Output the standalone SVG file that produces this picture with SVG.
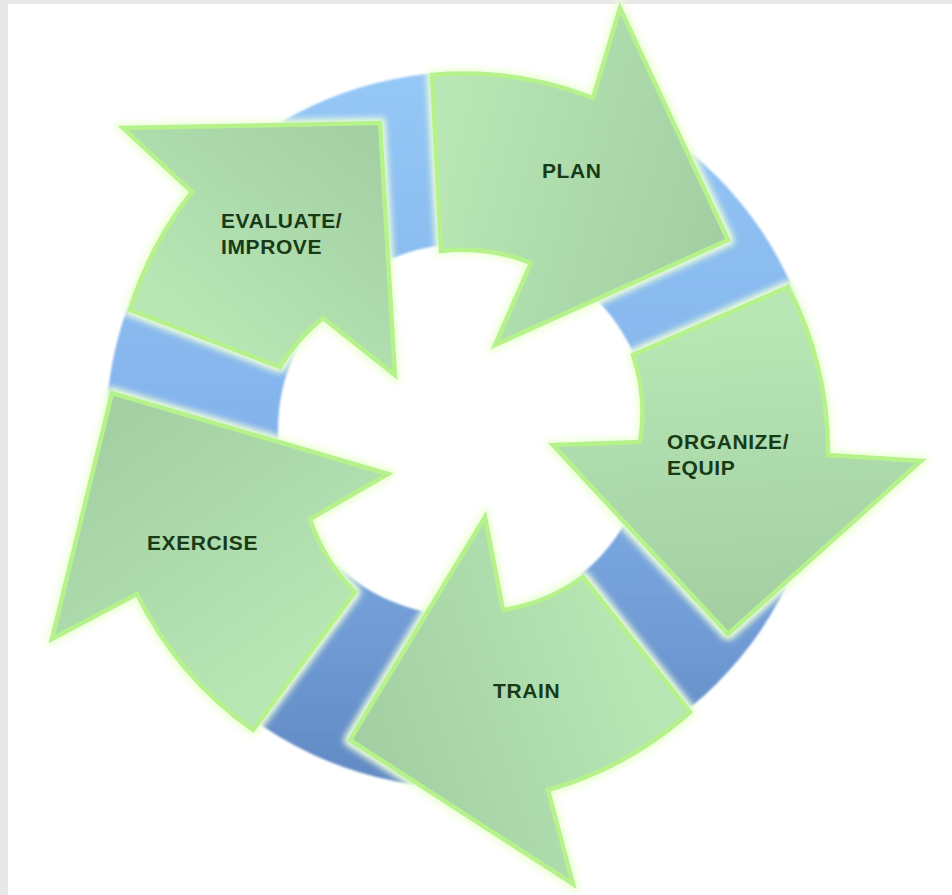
<svg xmlns="http://www.w3.org/2000/svg" width="952" height="895" viewBox="0 0 952 895">
<style>
.arrow{stroke:#b6f28c;stroke-width:4.5;stroke-linejoin:miter;filter:url(#glow)}
.lbl{font-family:"Liberation Sans",Arial,sans-serif;font-weight:bold;font-size:21px;letter-spacing:0.6px;fill:#173a17}
</style>
<defs>
<filter id="glow" x="-15%" y="-15%" width="130%" height="130%">
<feMorphology in="SourceAlpha" operator="dilate" radius="3" result="d"/>
<feGaussianBlur in="d" stdDeviation="3" result="b"/>
<feFlood flood-color="#eeffd8" result="c"/>
<feComposite in="c" in2="b" operator="in" result="g"/>
<feMerge><feMergeNode in="g"/><feMergeNode in="SourceGraphic"/></feMerge>
</filter>
<filter id="soft" x="-5%" y="-5%" width="110%" height="110%"><feGaussianBlur stdDeviation="1.2"/></filter>
<linearGradient id="ringG" x1="0" y1="0" x2="0" y2="1">
<stop offset="0" stop-color="#95c8f6"/>
<stop offset="0.5" stop-color="#84b3ec"/>
<stop offset="1" stop-color="#6189c3"/>
</linearGradient>
<linearGradient id="gPlan" gradientUnits="userSpaceOnUse" x1="436" y1="163" x2="728" y2="240">
<stop offset="0" stop-color="#b8e6b4"/><stop offset="1" stop-color="#a2cea2"/></linearGradient>
<linearGradient id="gOrg" gradientUnits="userSpaceOnUse" x1="710" y1="321" x2="728" y2="634">
<stop offset="0" stop-color="#b8e6b4"/><stop offset="1" stop-color="#a2cea2"/></linearGradient>
<linearGradient id="gTrain" gradientUnits="userSpaceOnUse" x1="636" y1="644" x2="350" y2="740">
<stop offset="0" stop-color="#b8e6b4"/><stop offset="1" stop-color="#a2cea2"/></linearGradient>
<linearGradient id="gEx" gradientUnits="userSpaceOnUse" x1="304" y1="661" x2="112" y2="393">
<stop offset="0" stop-color="#b8e6b4"/><stop offset="1" stop-color="#a2cea2"/></linearGradient>
<linearGradient id="gEval" gradientUnits="userSpaceOnUse" x1="205" y1="338" x2="380" y2="123">
<stop offset="0" stop-color="#b8e6b4"/><stop offset="1" stop-color="#a2cea2"/></linearGradient>
</defs>
<rect x="0" y="0" width="952" height="895" fill="#e8e8e8"/>
<rect x="8" y="4" width="944" height="891" fill="#ffffff"/>
<g id="ring">
<path filter="url(#soft)" fill="url(#ringG)" fill-rule="evenodd" d="M106,430 A358,358 0 1 1 822,430 A358,358 0 1 1 106,430 Z M278,430 A186,186 0 1 0 650,430 A186,186 0 1 0 278,430 Z"/>
</g>
<g id="plan">
<path class="arrow" fill="url(#gPlan)" d="M432,75 A358,358 0 0 1 593,98 L620,8 L728,240 L495,345 L531,263 A183,183 0 0 0 441,251 Z"/>
<text class="lbl" x="542" y="178">PLAN</text>
</g>
<g id="organize">
<path class="arrow" fill="url(#gOrg)" d="M788,287 A360,360 0 0 1 828,455 L921,461 L728,634 L553,445 L640,442 A180,180 0 0 0 633,355 Z"/>
<text class="lbl" x="667" y="449">ORGANIZE/</text>
<text class="lbl" x="667" y="475">EQUIP</text>
</g>
<g id="train">
<path class="arrow" fill="url(#gTrain)" d="M690,712 A360,360 0 0 1 548,790 L573,884 L350,740 L485,517 L503,610 A184,184 0 0 0 583,577 Z"/>
<text class="lbl" x="493" y="698">TRAIN</text>
</g>
<g id="exercise">
<path class="arrow" fill="url(#gEx)" d="M253,730 A362,362 0 0 1 137,594 L52,639 L112,393 L388,474 L310,519 A182,182 0 0 0 355,592 Z"/>
<text class="lbl" x="147" y="550">EXERCISE</text>
</g>
<g id="evaluate">
<path class="arrow" fill="url(#gEval)" d="M130,310 A358,358 0 0 1 192,192 L123,128 L380,123 L395,375 L323,318 A184,184 0 0 0 280,367 Z"/>
<text class="lbl" x="221" y="228">EVALUATE/</text>
<text class="lbl" x="221" y="254">IMPROVE</text>
</g>
</svg>
